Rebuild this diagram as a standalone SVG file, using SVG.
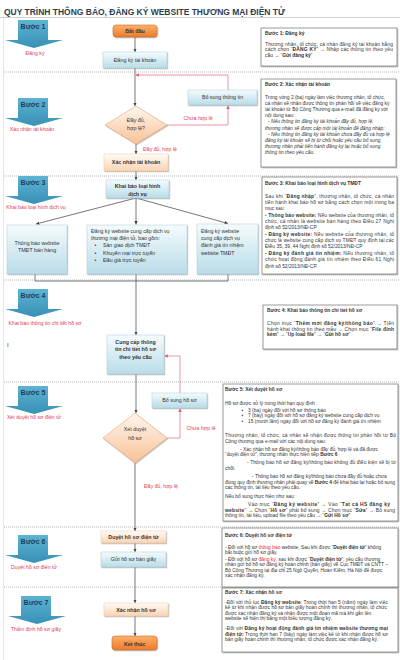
<svg xmlns="http://www.w3.org/2000/svg" width="400" height="660" viewBox="0 0 400 660">
<style>
text{font-family:"Liberation Sans","DejaVu Sans",Arial,sans-serif}
.title{font-size:8.5px;font-weight:bold;fill:#2d3e50}
.step{font-size:7px;font-weight:bold;fill:#1d3f5e;text-anchor:middle}
.lbl{font-size:5.2px;fill:#e0405a;text-anchor:middle}
.nt{font-size:5.3px;fill:#333;text-anchor:middle}
.nl{font-size:5.2px;fill:#333}
.b{font-weight:bold}
.sep{stroke:#9a9a9a;stroke-width:0.7;stroke-dasharray:1 1;fill:none}
.ln{stroke:#555;stroke-width:0.8;fill:none}
.rl{stroke:#e57a8b;stroke-width:0.8;fill:none}
.tb{fill:#fff;stroke:#808080;stroke-width:0.8}
.bt{font-size:4.9px;fill:#333}
.bh{font-size:4.9px;font-weight:bold;fill:#333}
.blue{fill:url(#gBlue);stroke:#a9cfdc;stroke-width:0.5}
.org{fill:url(#gOrg);stroke:#f0c7a5;stroke-width:0.5}
.btn{fill:url(#gBtn);stroke:#d26a22;stroke-width:0.6}
.dia{fill:url(#gDia);stroke:#e8a674;stroke-width:0.6}
.arr{fill:url(#gStep)}
.red{fill:#e02a2a}
</style>
<defs>
<linearGradient id="gStep" x1="0" y1="0" x2="0" y2="1"><stop offset="0" stop-color="#5db3d2"/><stop offset="1" stop-color="#3790b6"/></linearGradient>
<linearGradient id="gBlue" x1="0" y1="0" x2="0" y2="1"><stop offset="0" stop-color="#f5fbfd"/><stop offset="1" stop-color="#b8dce8"/></linearGradient>
<linearGradient id="gOrg" x1="0" y1="0" x2="0" y2="1"><stop offset="0" stop-color="#fffcf8"/><stop offset="1" stop-color="#fad3b2"/></linearGradient>
<linearGradient id="gBtn" x1="0" y1="0" x2="0" y2="1"><stop offset="0" stop-color="#fbb26d"/><stop offset="1" stop-color="#ec7a2a"/></linearGradient>
<linearGradient id="gDia" x1="0" y1="0" x2="0" y2="1"><stop offset="0" stop-color="#fff6ee"/><stop offset="1" stop-color="#f8c296"/></linearGradient>
<filter id="sh" x="-10%" y="-10%" width="130%" height="140%"><feDropShadow dx="0.8" dy="1" stdDeviation="0.6" flood-color="#888" flood-opacity="0.55"/></filter>
<marker id="ah" viewBox="0 0 6 6" refX="6" refY="3" markerUnits="userSpaceOnUse" markerWidth="3.4" markerHeight="3.4" orient="auto"><path d="M0,0 L6,3 L0,6 Z" fill="#444"/></marker>
<marker id="ahr" viewBox="0 0 6 6" refX="6" refY="3" markerUnits="userSpaceOnUse" markerWidth="3.4" markerHeight="3.4" orient="auto"><path d="M0,0 L6,3 L0,6 Z" fill="#e05a70"/></marker>
<path id="stepShape" d="M13,0 H43 V20 H58 L29,28 L0,20 H13 Z"/>
</defs>
<rect width="400" height="660" fill="#fff"/>
<text class="title" x="4" y="14.5" textLength="281" lengthAdjust="spacingAndGlyphs">QUY TRÌNH THÔNG BÁO, ĐĂNG KÝ WEBSITE THƯƠNG MẠI ĐIỆN TỬ</text>
<line x1="0" y1="17.5" x2="400" y2="17.5" stroke="#c4c4c4" stroke-width="0.8"/>
<line x1="3.5" y1="18" x2="3.5" y2="660" stroke="#e2e2e2" stroke-width="0.8"/>
<g id="separators">
<line class="sep" x1="4" y1="72" x2="400" y2="72"/>
<line class="sep" x1="4" y1="176" x2="400" y2="176"/>
<line class="sep" x1="4" y1="280" x2="400" y2="280"/>
<line class="sep" x1="4" y1="382" x2="400" y2="382"/>
<line class="sep" x1="4" y1="527" x2="400" y2="527"/>
<line class="sep" x1="4" y1="587" x2="400" y2="587"/>
</g>
<g id="step1"><use href="#stepShape" class="arr" x="5" y="20"/><text class="step" x="33" y="29">Bước 1</text><text class="lbl" x="35" y="55">Đăng ký</text></g>
<g id="step2"><use href="#stepShape" class="arr" x="5" y="98"/><text class="step" x="33" y="107">Bước 2</text><text class="lbl" x="32" y="131">Xác nhận tài khoản</text></g>
<g id="step3"><use href="#stepShape" class="arr" x="5" y="176"/><text class="step" x="33" y="185">Bước 3</text><text class="lbl" x="36" y="209">Khai báo loại hình dịch vụ</text></g>
<g id="step4"><use href="#stepShape" class="arr" x="5" y="289"/><text class="step" x="33" y="298">Bước 4</text><text class="lbl" x="45" y="325">Khai báo thông tin chi tiết hồ sơ</text></g>
<text x="7" y="347" font-size="6" fill="#333">I</text>
<g id="step5"><use href="#stepShape" class="arr" x="5" y="386"/><text class="step" x="33" y="395">Bước 5</text><text class="lbl" x="34" y="419">Xét duyệt hồ sơ điện tử</text></g>
<g id="step6"><use href="#stepShape" class="arr" x="5" y="535"/><text class="step" x="33" y="544">Bước 6</text><text class="lbl" x="34" y="569">Duyệt hồ sơ điện tử</text></g>
<g id="step7"><use href="#stepShape" class="arr" x="8" y="596"/><text class="step" x="36" y="605">Bước 7</text><text class="lbl" x="36" y="631">Thẩm định hồ sơ giấy</text></g>
<g id="connectors">
<line class="ln" x1="135" y1="37" x2="135" y2="52" marker-end="url(#ah)"/>
<line class="ln" x1="135" y1="68" x2="135" y2="106" marker-end="url(#ah)"/>
<polyline class="rl" points="167,125 228,125 228,105.5" marker-end="url(#ahr)"/>
<polyline class="rl" points="228,90 228,75 135.5,75" marker-end="url(#ahr)"/>
<line class="ln" x1="136" y1="144" x2="136" y2="154" marker-end="url(#ah)"/>
<line class="ln" x1="136" y1="171" x2="136" y2="180" marker-end="url(#ah)"/>
<line class="ln" x1="136" y1="198" x2="36" y2="224" marker-end="url(#ah)"/>
<line class="ln" x1="136" y1="198" x2="136" y2="224.5" marker-end="url(#ah)"/>
<line class="ln" x1="136" y1="198" x2="228" y2="223.5" marker-end="url(#ah)"/>
<polyline class="ln" points="35,274 35,281 228,281 228,274"/>
<line class="ln" x1="136" y1="274" x2="136" y2="335" marker-end="url(#ah)"/>
<line class="ln" x1="136" y1="374" x2="136" y2="413" marker-end="url(#ah)"/>
<polyline class="rl" points="167,438 180,438 180,408.5" marker-end="url(#ahr)"/>
<polyline class="rl" points="180,393 180,356 164.5,356" marker-end="url(#ahr)"/>
<line class="ln" x1="135" y1="463" x2="135" y2="531" marker-end="url(#ah)"/>
<line class="ln" x1="135" y1="543" x2="135" y2="552" marker-end="url(#ah)"/>
<line class="ln" x1="135" y1="567" x2="135" y2="603" marker-end="url(#ah)"/>
<line class="ln" x1="135" y1="616" x2="135" y2="636" marker-end="url(#ah)"/>
<text class="lbl" x="198" y="119.5">Chưa hợp lệ</text>
<text class="lbl" x="160" y="151">Đầy đủ, hợp lệ</text>
<text class="lbl" x="201" y="430">Chưa hợp lệ</text>
<text class="lbl" x="161" y="488">Đầy đủ, hợp lệ</text>
</g>
<g id="start"><rect class="btn" x="113" y="25" width="44" height="12" rx="3" filter="url(#sh)"/><text class="nt b" x="135" y="33.3" font-size="6.5">Bắt đầu</text></g>
<g id="register"><rect class="blue" x="103" y="52" width="64" height="16" filter="url(#sh)"/><text class="nt" x="135" y="61.8">Đăng ký tài khoản</text></g>
<g id="check1"><polygon class="dia" points="136,106 167,125 136,144 105,125" filter="url(#sh)"/><text class="nt" x="136" y="122">Đầy đủ,</text><text class="nt" x="136" y="130">hợp lệ?</text></g>
<g id="supplement1"><rect class="blue" x="188" y="90" width="69" height="15" filter="url(#sh)"/><text class="nt" x="222.5" y="99.3">Bổ sung thông tin</text></g>
<g id="confirmAcc"><rect class="org" x="104" y="154" width="64" height="17" filter="url(#sh)"/><text class="nt b" x="136" y="164.3">Xác nhận tài khoản</text></g>
<g id="declare"><rect class="blue" x="106" y="180" width="63" height="18" filter="url(#sh)"/><text class="nt b" x="137.5" y="188" font-size="6">Khai báo loại hình</text><text class="nt b" x="137.5" y="195.5" font-size="6">dịch vụ</text></g>
<g id="opt1"><rect class="blue" x="7" y="225" width="60" height="49" filter="url(#sh)"/><text class="nt" x="37" y="244.5">Thông báo website</text><text class="nt" x="37" y="252">TMĐT  bán hàng</text></g>
<g id="opt2"><rect class="blue" x="87" y="225" width="100" height="49" filter="url(#sh)"/>
<text class="nl" x="91" y="232.8">Đăng ký website cung cấp dịch vụ</text>
<text class="nl" x="91" y="239.5">thương mại điện tử, bao gồm:</text>
<text class="nl" x="94.5" y="246.8">•</text><text class="nl" x="103" y="246.8">Sàn giao dịch TMĐT</text>
<text class="nl" x="94.5" y="254.5">•</text><text class="nl" x="103" y="254.5">Khuyến mại trực tuyến</text>
<text class="nl" x="94.5" y="261.8">•</text><text class="nl" x="103" y="261.8">Đấu giá trực tuyến</text></g>
<g id="opt3"><rect class="blue" x="197" y="224" width="61" height="50" filter="url(#sh)"/>
<text class="nl" x="201" y="232.8">Đăng ký website</text>
<text class="nl" x="201" y="239.5">cung cấp dịch vụ</text>
<text class="nl" x="201" y="246.8">đánh giá tín nhiệm</text>
<text class="nl" x="201" y="254.5">website TMĐT</text></g>
<g id="provide"><rect class="blue" x="107" y="335" width="57" height="39" filter="url(#sh)"/><text class="nt b" x="135.5" y="343.5">Cung cấp thông</text><text class="nt b" x="135.5" y="351">tin chi tiết hồ sơ</text><text class="nt b" x="135.5" y="358.5">theo yêu cầu</text></g>
<g id="check2"><polygon class="dia" points="135,413 167,438 135,463 103,438" filter="url(#sh)"/><text class="nt" x="135" y="431">Xét duyệt</text><text class="nt" x="135" y="439.5">hồ sơ</text></g>
<g id="supplement2"><rect class="blue" x="152" y="393" width="55" height="15" filter="url(#sh)"/><text class="nt" x="179.5" y="402.3">Bổ sung hồ sơ</text></g>
<g id="eapprove"><rect class="org" x="101" y="531" width="65" height="12" filter="url(#sh)"/><text class="nt b" x="133.5" y="539">Duyệt hồ sơ điện tử</text></g>
<g id="sendpaper"><rect class="blue" x="101" y="552" width="65" height="15" filter="url(#sh)"/><text class="nt" x="133.5" y="561.3">Gửi hồ sơ bản giấy</text></g>
<g id="confirmDoc"><rect class="org" x="104" y="603" width="64" height="13" filter="url(#sh)"/><text class="nt b" x="136" y="611.5">Xác nhận hồ sơ</text></g>
<g id="end"><rect class="btn" x="112" y="636" width="45" height="14" rx="3" filter="url(#sh)"/><text class="nt b" x="134.5" y="645.5" font-size="7">Kết thúc</text></g>
<g id="note1"><rect class="tb" x="261" y="28" width="136" height="38" filter="url(#sh)"/>
<text class="bh" x="265" y="34.5">Bước 1: Đăng ký</text>
<text class="bt" x="265" y="45.5" textLength="128">Thương nhân, tổ chức, cá nhân đăng ký tài khoản bằng</text>
<text class="bt" x="265" y="51" textLength="128">cách chọn “<tspan class="b">ĐĂNG KÝ</tspan>” → Nhập các thông tin theo yêu</text>
<text class="bt" x="265" y="56.5">cầu → “<tspan class="b">Gửi đăng ký</tspan>”</text></g>
<g id="note2"><rect class="tb" x="261" y="79" width="135" height="88" filter="url(#sh)"/>
<text class="bh" x="265" y="85.5">Bước 2: Xác nhận tài khoản</text>
<text class="bt" x="265" y="98.5">Trong vòng 2 (ba) ngày làm việc thương nhân, tổ chức,</text>
<text class="bt" x="265" y="104.7">cá nhân sẽ nhận được thông tin phản hồi về việc đăng ký</text>
<text class="bt" x="265" y="110.9">tài khoản từ Bộ Công Thương qua e-mail đã đăng ký với</text>
<text class="bt" x="265" y="117.1">nội dung sau:</text>
<text class="bt" x="268" y="123.3" font-style="italic">- Nếu thông tin đăng ký tài khoản đầy đủ, hợp lệ,</text>
<text class="bt" x="265" y="129.5" font-style="italic">thương nhân sẽ được cấp một tài khoản để đăng nhập;</text>
<text class="bt" x="268" y="135.7" font-style="italic">- Nếu thông tin đăng ký tài khoản chưa đầy đủ và hợp lệ</text>
<text class="bt" x="265" y="141.9" font-style="italic">đăng ký tài khoản sẽ bị từ chối hoặc yêu cầu bổ sung,</text>
<text class="bt" x="265" y="148.1" font-style="italic">thương nhân phải tiến hành đăng ký lại hoặc bổ sung</text>
<text class="bt" x="265" y="154.3" font-style="italic">thông tin theo yêu cầu.</text></g>
<g id="note3"><rect class="tb" x="262" y="177" width="135" height="97" filter="url(#sh)"/>
<text class="bh" x="265" y="184.5">Bước 3: Khai báo loại hình  dịch vụ TMĐT</text>
<text class="bt" x="265" y="197.5" textLength="129">Sau khi “<tspan class="b">Đăng nhập</tspan>”, thương nhân, tổ chức, cá nhân</text>
<text class="bt" x="265" y="203.9" textLength="129">tiến hành khai báo hồ sơ bằng cách chọn một trong ba</text>
<text class="bt" x="265" y="210.2">mục sau:</text>
<text class="bt" x="265" y="216.6" textLength="129"><tspan class="b">- Thông báo website:</tspan> Nếu website của thương nhân, tổ</text>
<text class="bt" x="265" y="222.9" textLength="129">chức, cá nhân là website bán hàng theo Điều 27 Nghị</text>
<text class="bt" x="265" y="229.3">định số 52/2013/NĐ-CP</text>
<text class="bt" x="265" y="235.7" textLength="129"><tspan class="b">- Đăng ký website:</tspan> Nếu website của thương nhân, tổ</text>
<text class="bt" x="265" y="242" textLength="129">chức là website cung cấp dịch vụ TMĐT quy định tại các</text>
<text class="bt" x="265" y="248.4">Điều 35, 39, 44 Nghị định số 52/2013/NĐ-CP</text>
<text class="bt" x="265" y="254.8" textLength="129"><tspan class="b">- Đăng ký đánh giá tín nhiệm:</tspan> Nếu thương nhân, tổ</text>
<text class="bt" x="265" y="261.1" textLength="129">chức hoạt động đánh giá tín nhiệm theo Điều 61 Nghị</text>
<text class="bt" x="265" y="267.5">định số 52/2013/NĐ-CP.</text></g>
<g id="note4"><rect class="tb" x="263" y="305" width="134" height="44" filter="url(#sh)"/>
<text class="bh" x="267" y="311.5">Bước 4: Khai báo thông tin chi tiết hồ sơ</text>
<text class="bt" x="267" y="324.8" textLength="127">Chọn mục “<tspan class="b">Thêm mới đăng ký/thông báo</tspan>” → Tiến</text>
<text class="bt" x="267" y="330.5" textLength="127">hành khai thông tin theo mẫu → Chọn mục “<tspan class="b">File đính</tspan></text>
<text class="bt" x="267" y="336"><tspan class="b">kèm</tspan>” → “<tspan class="b">Up load file</tspan>” → “<tspan class="b">Gửi hồ sơ</tspan>”</text></g>
<g id="note5"><rect class="tb" x="223" y="384" width="175" height="137" filter="url(#sh)"/>
<text class="bh" x="225" y="390.5">Bước 5: Xét duyệt hồ sơ</text>
<text class="bt" x="225" y="404.5">Hồ sơ được xử lý trong thời hạn quy định :</text>
<text class="bt" x="241.5" y="411.5">•</text><text class="bt" x="248" y="411.5">3 (ba) ngày đối với hồ sơ thông báo</text>
<text class="bt" x="241.5" y="417.3">•</text><text class="bt" x="248" y="417.3">7 (bảy) ngày đối với hồ sơ đăng ký website cung cấp dịch vụ</text>
<text class="bt" x="241.5" y="423">•</text><text class="bt" x="248" y="423">15 (mười lăm) ngày đối với hồ sơ đăng ký đánh giá tín nhiệm</text>
<text class="bt" x="225" y="437" textLength="171">Thương nhân, tổ chức, cá nhân sẽ nhận được thông tin phản hồi từ Bộ</text>
<text class="bt" x="225" y="442.5">Công thương qua e-mail với các nội dung sau:</text>
<text class="bt" x="240" y="450.5">- Xác nhận hồ sơ đăng ký/thông báo đầy đủ, hợp lệ và đã được</text>
<text class="bt" x="225" y="456">“duyệt điện tử”, thương nhân thực hiện tiếp <tspan class="b">Bước 6</tspan></text>
<text class="bt" x="247" y="464.2" textLength="149">- Thông báo hồ sơ đăng ký/thông báo không đủ điều kiện sẽ bị từ</text>
<text class="bt" x="225" y="469.8">chối.</text>
<text class="bt" x="252" y="478.2">- Thông báo hồ sơ đăng ký/thông báo chưa đầy đủ hoặc chưa</text>
<text class="bt" x="225" y="483.8" textLength="170">đúng quy định thương nhân phải quay về <tspan class="b">Bước 4</tspan> để khai báo lại hoặc bổ sung</text>
<text class="bt" x="225" y="489.2">các thông tin, tài liệu theo yêu cầu.</text>
<text class="bt" x="225" y="498.2">Nếu bổ sung thực hiện như sau:</text>
<text class="bt" x="248" y="505.8" textLength="142">Vào mục “<tspan class="b">Đăng ký website</tspan>” → Vào “<tspan class="b">Tất cả HS đăng ký</tspan></text>
<text class="bt" x="225" y="511.5" textLength="170"><tspan class="b">website</tspan>” → Chọn “<tspan class="b">Hồ sơ</tspan>” phải bổ sung → Chọn mục “<tspan class="b">Sửa</tspan>” → Bổ sung</text>
<text class="bt" x="225" y="517.3">thông tin, tài liệu, upload file theo yêu cầu → “<tspan class="b">Gửi Hồ sơ</tspan>”</text></g>
<g id="note6"><rect class="tb" x="222" y="528" width="176" height="59" filter="url(#sh)"/>
<text class="bh" x="225" y="536.5">Bước 6: Duyệt hồ sơ điện tử</text>
<text class="bt" x="225" y="548.8">- Đối với hồ sơ <tspan class="red">thông báo</tspan>  website, Sau khi được “<tspan class="b">Duyệt điện tử</tspan>” không</text>
<text class="bt" x="225" y="554.2">bắt buộc gửi hồ sơ giấy.</text>
<text class="bt" x="225" y="560.5">- Đối với hồ sơ <tspan class="red">đăng ký</tspan>, sau khi được “<tspan class="b">Duyệt điện tử</tspan>”, yêu cầu thương</text>
<text class="bt" x="225" y="565.8">nhân gửi bổ hồ sơ đăng ký hoàn chỉnh (bản giấy) về Cục TMĐT và CNTT –</text>
<text class="bt" x="225" y="571.5">Bộ Công Thương tại địa chỉ 25 Ngô Quyền, Hoàn Kiếm, Hà Nội để được</text>
<text class="bt" x="225" y="577.2">xác nhận đăng ký.</text></g>
<g id="note7"><rect class="tb" x="222" y="588" width="176" height="64" filter="url(#sh)"/>
<text class="bh" x="225" y="593.8">Bước 7: Xác nhận hồ sơ</text>
<text class="bt" x="225" y="603.8" textLength="163">-Đối với thủ tục <tspan class="b">Đăng ký website</tspan>: Trong thời hạn 5 (năm) ngày làm việc</text>
<text class="bt" x="225" y="609.2" textLength="162">kể từ khi nhận được hồ sơ bản giấy hoàn chỉnh thì thương nhân, tổ chức</text>
<text class="bt" x="225" y="614.8">được xác nhận đăng ký và nhận được một đoạn mã mà khi gắn lên</text>
<text class="bt" x="225" y="619.8">website sẽ hiện thị bằng một biểu tượng đăng ký.</text>
<text class="bt" x="225" y="629.8" textLength="163">-Đối với <tspan class="b">Đăng ký hoạt động đánh giá tín nhiệm website thương mại</tspan></text>
<text class="bt" x="225" y="635.5" textLength="163"><tspan class="b">điện tử:</tspan>  Trong thời hạn 7 (bảy) ngày làm việc kể từ khi nhận được hồ sơ</text>
<text class="bt" x="225" y="640.8">bản giấy hoàn chỉnh thì thương nhân, tổ chức được xác nhận đăng ký.</text></g>
</svg>
